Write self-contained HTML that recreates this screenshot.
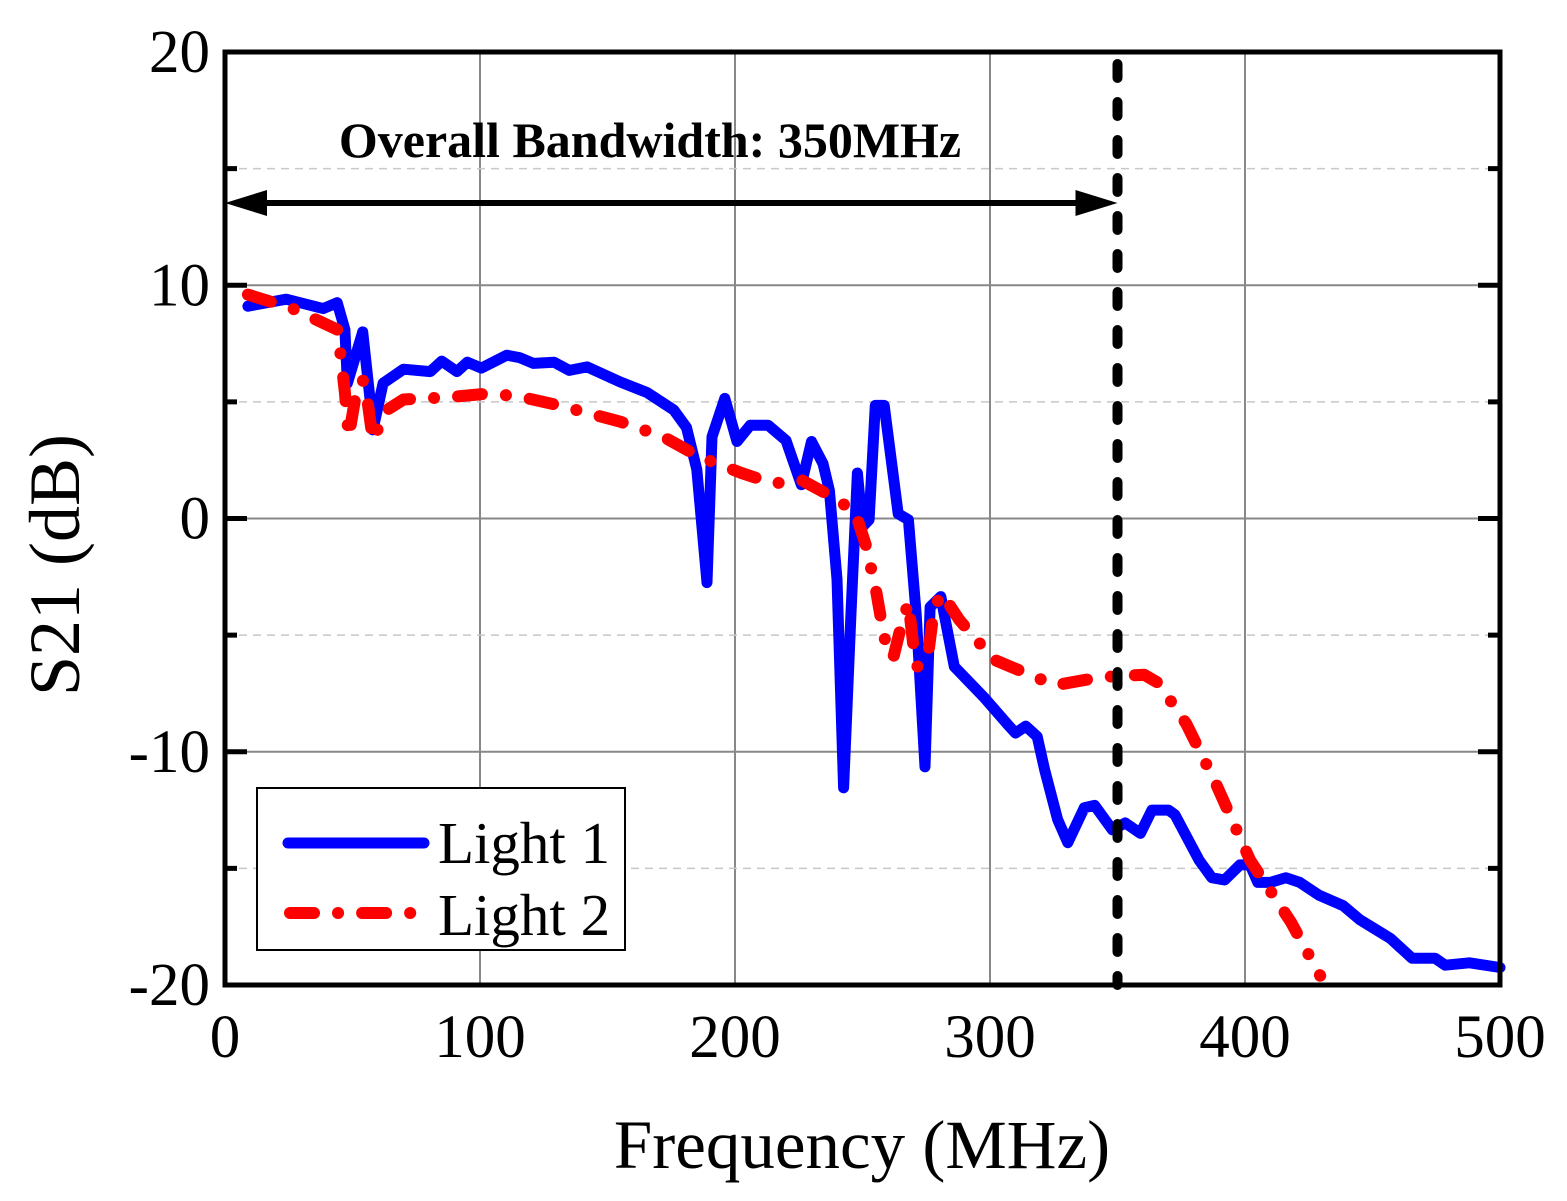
<!DOCTYPE html>
<html><head><meta charset="utf-8"><style>
html,body{margin:0;padding:0;background:#fff;}
svg{display:block;font-family:"Liberation Serif",serif;}
</style></head><body>
<svg id="chart" width="1567" height="1201" viewBox="0 0 1567 1201" xmlns="http://www.w3.org/2000/svg">
<g id="grid"></g>
<g id="series"></g>
<g id="axes"></g>
<g id="labels"></g>
</svg>
<script>
const xTicks=[0,100,200,300,400,500];
const yTicks=[-20,-10,0,10,20];
const yMinor=[-15,-5,5,15];
const l1F=[9,24,38.5,44,47,48,54,57.5,58,62,70,80.5,85,91,95,100.5,110.5,115.5,121,129,135,142,155,165.5,176,181,185,189,191,196,200.8,206,213,220,226,230,234.5,237,240,242.6,245.5,248,250,252.6,255,258.5,264,268,271,274.5,276.5,280.7,286,297.5,307.5,310,314,318.5,321.5,326.5,330.5,337,341,348,353,359,363.5,370,372.5,382,387,392,398,402,405,410,416,421.5,429,438.5,445,451,457,465.5,474.5,478.5,488,500];
const l1V=[9.1,9.4,9.0,9.25,8.1,5.8,8.0,4.5,3.8,5.8,6.4,6.3,6.75,6.3,6.7,6.45,7.0,6.9,6.65,6.7,6.35,6.5,5.85,5.4,4.65,3.9,2.1,-2.75,3.5,5.15,3.3,4.0,4.0,3.35,1.45,3.3,2.35,1.2,-2.6,-11.55,-4.05,1.95,-0.35,-0.05,4.85,4.85,0.2,-0.05,-4.05,-10.65,-3.8,-3.35,-6.35,-7.65,-8.9,-9.2,-8.9,-9.35,-10.8,-12.9,-13.9,-12.4,-12.3,-13.35,-13.05,-13.5,-12.5,-12.5,-12.7,-14.65,-15.4,-15.5,-14.85,-14.85,-15.6,-15.6,-15.4,-15.6,-16.15,-16.6,-17.2,-17.6,-18.0,-18.85,-18.85,-19.15,-19.05,-19.25];
const l2F=[9,26.5,44,45,47,48.5,51,54,56,58,61,63.5,70,88,102.5,114.5,131,155,172,186,202.5,215,226,237,247,251.5,255.5,258.5,262,265,268,270,271.5,275.5,278,281,288,301.5,325.5,343.5,360.5,366,377,388.5,402,418,429.5];
const l2V=[9.6,9.0,8.1,7.3,5.4,3.5,5.1,5.95,4.95,3.35,4.1,4.65,5.1,5.2,5.35,5.25,4.85,4.15,3.5,2.65,1.95,1.5,1.65,1.0,0.3,-1.2,-3.2,-5.1,-6.0,-4.65,-3.6,-5.5,-6.35,-6.05,-3.9,-3.2,-4.35,-6.05,-7.15,-6.8,-6.7,-7.05,-8.8,-11.35,-14.65,-17.3,-19.6];
const bandwidth=350;
const NS="http://www.w3.org/2000/svg";
const X0=225,X1=1500,Y0=985,Y1=52;
const xs=f=>X0+(f-0)/(500-0)*(X1-X0);
const ys=v=>Y0-(v+20)/40*(Y0-Y1);
function mk(parent,tag,attrs,text){const e=document.createElementNS(NS,tag);for(const k in attrs)e.setAttribute(k,attrs[k]);if(text!==undefined)e.textContent=text;document.getElementById(parent).appendChild(e);return e;}
xTicks.slice(1,-1).forEach(t=>{const e=mk('grid','line',{x1:xs(t),x2:xs(t),y1:Y1,y2:Y0,stroke:'#888','stroke-width':2});

});
yTicks.slice(1,-1).forEach(t=>{const e=mk('grid','line',{x1:X0,x2:X1,y1:ys(t),y2:ys(t),stroke:'#888','stroke-width':2});

});
yMinor.forEach(t=>{const e=mk('grid','line',{x1:X0,x2:X1,y1:ys(t),y2:ys(t),stroke:'#c8c8c8','stroke-width':1.5,'stroke-dasharray':'8 6'});

});
const pts=(F,V)=>F.map((f,i)=>xs(f).toFixed(1)+','+ys(V[i]).toFixed(1)).join(' ');
const s1=mk('series','polyline',{points:pts(l1F,l1V),fill:'none',stroke:'#0000ff','stroke-width':11,'stroke-linejoin':'round','stroke-linecap':'round'});


const s2=mk('series','polyline',{points:pts(l2F,l2V),fill:'none',stroke:'#ff0000','stroke-width':12,'stroke-linejoin':'round','stroke-linecap':'round','stroke-dasharray':'24 24 0.1 24'});


const bx=xs(bandwidth);
const vl=mk('series','line',{x1:bx,x2:bx,y1:Y1+12,y2:Y0,stroke:'#000','stroke-width':10,'stroke-dasharray':'14 24','stroke-linecap':'round'});


const ay=203;
const ar=mk('series','line',{x1:X0+30,x2:bx-30,y1:ay,y2:ay,stroke:'#000','stroke-width':6});


const ah1=mk('series','polygon',{points:`${X0},${ay} ${X0+42},${ay-13} ${X0+42},${ay+13}`,fill:'#000'});


const ah2=mk('series','polygon',{points:`${bx},${ay} ${bx-42},${ay-13} ${bx-42},${ay+13}`,fill:'#000'});


const at=mk('labels','text',{x:650,y:157,'font-size':50,'font-weight':'bold','text-anchor':'middle'},'Overall Bandwidth: 350MHz');


const fr=mk('axes','rect',{x:X0,y:Y1,width:X1-X0,height:Y0-Y1,fill:'none',stroke:'#000','stroke-width':5});


yTicks.forEach(t=>{[[X0,X0+22],[X1,X1-22]].forEach(([a,b])=>{const e=mk('axes','line',{x1:a,x2:b,y1:ys(t),y2:ys(t),stroke:'#000','stroke-width':5});

});
const l=mk('labels','text',{x:X0-15,y:ys(t)+20,'font-size':61,'text-anchor':'end'},String(t));

});
yMinor.forEach(t=>{[[X0,X0+12],[X1,X1-12]].forEach(([a,b])=>{const e=mk('axes','line',{x1:a,x2:b,y1:ys(t),y2:ys(t),stroke:'#000','stroke-width':5});

});});
xTicks.forEach(t=>{const l=mk('labels','text',{x:xs(t),y:1057,'font-size':61,'text-anchor':'middle'},String(t));

});
const xt=mk('labels','text',{x:862,y:1168,'font-size':69,'text-anchor':'middle'},'Frequency (MHz)');


const yt=mk('labels','text',{x:0,y:0,'font-size':72,'text-anchor':'middle',transform:'translate(79,565) rotate(-90)'},'S21 (dB)');


const lg=mk('labels','rect',{x:257,y:788,width:368,height:162,fill:'#fff',stroke:'#000','stroke-width':2});


const lb=mk('labels','line',{x1:288,x2:424,y1:843,y2:843,stroke:'#0000ff','stroke-width':11,'stroke-linecap':'round'});


const lr=mk('labels','line',{x1:290,x2:424,y1:913,y2:913,stroke:'#ff0000','stroke-width':12,'stroke-linecap':'round','stroke-dasharray':'24 24 0.1 24'});


const t1=mk('labels','text',{x:438,y:863,'font-size':59},'Light 1');


const t2=mk('labels','text',{x:438,y:935,'font-size':59},'Light 2');


</script>
</body></html>
